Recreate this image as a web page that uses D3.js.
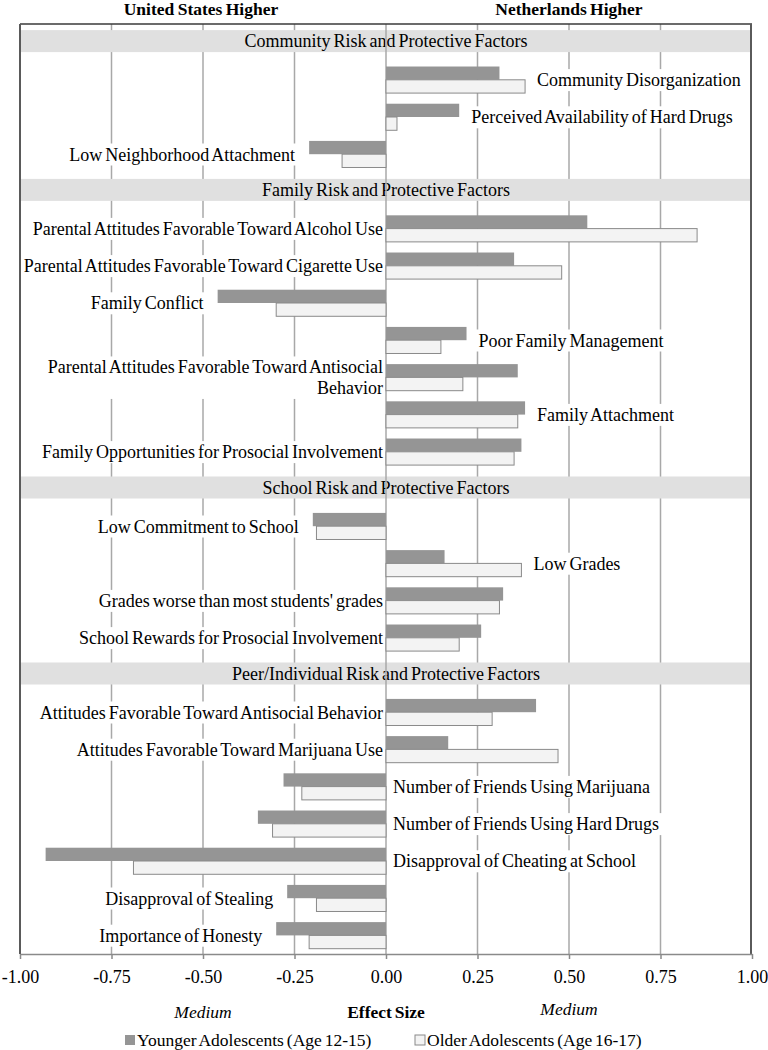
<!DOCTYPE html>
<html>
<head>
<meta charset="utf-8">
<script src="https://cdn.jsdelivr.net/npm/d3@7"></script>
<style>
  html, body { margin: 0; padding: 0; background: #fff; }
  svg { display: block; }
  text { font-family: "Liberation Serif", "Times New Roman", serif; fill: #000; }
</style>
</head>
<body>
<svg id="chart" width="768" height="1050"></svg>
<script>
// ---------------- DATA ----------------
const sections = [
  "Community Risk and Protective Factors",
  "Family Risk and Protective Factors",
  "School Risk and Protective Factors",
  "Peer/Individual Risk and Protective Factors"
];

const communityFactors = [
  "Community Disorganization",
  "Perceived Availability of Hard Drugs",
  "Low Neighborhood Attachment"
];
const communityYounger = [0.31, 0.20, -0.21];
const communityOlder   = [0.38, 0.03, -0.12];

const familyFactors = [
  "Parental Attitudes Favorable Toward Alcohol Use",
  "Parental Attitudes Favorable Toward Cigarette Use",
  "Family Conflict",
  "Poor Family Management",
  "Parental Attitudes Favorable Toward Antisocial\nBehavior",
  "Family Attachment",
  "Family Opportunities for Prosocial Involvement"
];
const familyYounger = [0.55, 0.35, -0.46, 0.22, 0.36, 0.38, 0.37];
const familyOlder   = [0.85, 0.48, -0.30, 0.15, 0.21, 0.36, 0.35];

const schoolFactors = [
  "Low Commitment to School",
  "Low Grades",
  "Grades worse than most students' grades",
  "School Rewards for Prosocial Involvement"
];
const schoolYounger = [-0.20, 0.16, 0.32, 0.26];
const schoolOlder   = [-0.19, 0.37, 0.31, 0.20];

const peerFactors = [
  "Attitudes Favorable Toward Antisocial Behavior",
  "Attitudes Favorable Toward Marijuana Use",
  "Number of Friends Using Marijuana",
  "Number of Friends Using Hard Drugs",
  "Disapproval of Cheating at School",
  "Disapproval of Stealing",
  "Importance of Honesty"
];
const peerYounger = [0.41, 0.17, -0.28, -0.35, -0.93, -0.27, -0.30];
const peerOlder   = [0.29, 0.47, -0.23, -0.31, -0.69, -0.19, -0.21];

const seriesNames = ["Younger Adolescents (Age 12-15)", "Older Adolescents (Age 16-17)"];
const tickValues = [-1, -0.75, -0.5, -0.25, 0, 0.25, 0.5, 0.75, 1];
const tickLabels = ["-1.00", "-0.75", "-0.50", "-0.25", "0.00", "0.25", "0.50", "0.75", "1.00"];
const sideTitles = ["United States Higher", "Netherlands Higher"];
const axisTitle = "Effect Size";
const mediumLabel = "Medium";
const mediumValues = [-0.5, 0.5];

// label placement (layout only): where each factor label sits relative to its bars
const labelSide = [
  "barRight", "barRight", "barLeft",
  "zeroLeft", "zeroLeft", "barLeft", "barRight", "zeroLeft", "barRight", "zeroLeft",
  "barLeft", "barRight", "zeroLeft", "zeroLeft",
  "zeroLeft", "zeroLeft", "zeroRight", "zeroRight", "zeroRight", "barLeft", "barLeft"
];

// ---------------- BUILD ROWS ----------------
const groups = [
  [communityFactors, communityYounger, communityOlder],
  [familyFactors, familyYounger, familyOlder],
  [schoolFactors, schoolYounger, schoolOlder],
  [peerFactors, peerYounger, peerOlder]
];
const rows = [];
let li = 0;
groups.forEach((g, gi) => {
  rows.push({ key: "h" + gi, header: true, label: sections[gi] });
  g[0].forEach((name, i) => {
    rows.push({ key: "f" + li, header: false, label: name, values: [g[1][i], g[2][i]], side: labelSide[li] });
    li++;
  });
});

// ---------------- LAYOUT ----------------
const svg = d3.select("#chart");
const pL = 20, pR = 752, pT = 24, pB = 954;
const FS = 18;
const WS = -1.5;
const FONT = "'Liberation Serif', 'Times New Roman', serif";

const x = d3.scaleLinear().domain([-1, 1]).range([pL, pR]);
const y = d3.scaleBand().domain(rows.map(r => r.key)).range([pT, pB]).paddingInner(0).paddingOuter(0);
const sub = d3.scaleBand().domain([0, 1]).range([0, y.bandwidth()]).paddingInner(0).paddingOuter(0.4);

const colors = { dark: "#959595", light: "#f3f3f3", lightStroke: "#8a8a8a", grid: "#a8a8a8", band: "#e0e0e0" };

svg.append("rect").attr("width", 768).attr("height", 1050).attr("fill", "#fff");

// gridlines (non-zero)
svg.append("g").selectAll("line")
  .data(tickValues.filter(v => v !== 0 && Math.abs(v) !== 1))
  .join("line")
  .attr("x1", d => x(d)).attr("x2", d => x(d))
  .attr("y1", pT).attr("y2", pB)
  .attr("stroke", colors.grid).attr("stroke-width", 1.5);

// header bands
const headers = rows.filter(r => r.header);
const bandH = 22;
const hg = svg.append("g");
hg.selectAll("rect").data(headers).join("rect")
  .attr("x", pL + 1).attr("width", pR - pL - 2)
  .attr("y", d => y(d.key) + y.bandwidth() / 2 - bandH / 2 - 1.5)
  .attr("height", bandH)
  .attr("fill", colors.band);
hg.selectAll("text").data(headers).join("text")
  .attr("x", x(0)).attr("y", d => y(d.key) + y.bandwidth() / 2 - 1.5)
  .attr("dy", "0.35em")
  .attr("text-anchor", "middle")
  .attr("font-size", FS).attr("word-spacing", WS)
  .text(d => d.label);

// factor labels with white backing
const factors = rows.filter(r => !r.header);
const lg = svg.append("g");
factors.forEach(r => {
  const lo = Math.min(0, ...r.values), hi = Math.max(0, ...r.values);
  let tx, anchor;
  if (r.side === "zeroLeft") { tx = x(0) - 3; anchor = "end"; }
  else if (r.side === "zeroRight") { tx = x(0) + 7; anchor = "start"; }
  else if (r.side === "barLeft") { tx = x(lo) - 14; anchor = "end"; }
  else { tx = x(hi) + 12; anchor = "start"; }
  const cy = y(r.key) + y.bandwidth() / 2;
  const lines = r.label.split("\n");
  const g = lg.append("g");
  const bgr = g.append("rect").attr("fill", "#fff");
  const t = g.append("text")
    .attr("text-anchor", anchor)
    .attr("font-size", FS).attr("word-spacing", WS);
  const lh = 20.5;
  lines.forEach((ln, i) => {
    t.append("tspan").attr("x", tx)
      .attr("y", cy + (i - (lines.length - 1) / 2) * lh)
      .attr("dy", "0.35em")
      .text(ln);
  });
  const bb = t.node().getBBox();
  bgr.attr("x", bb.x - 7).attr("y", bb.y - 1).attr("width", bb.width + 14).attr("height", bb.height + 2);
});

// zero line
svg.append("line")
  .attr("x1", x(0)).attr("x2", x(0)).attr("y1", pT).attr("y2", pB)
  .attr("stroke", colors.grid).attr("stroke-width", 1.5);

// bars
const barG = svg.append("g");
factors.forEach(r => {
  r.values.forEach((v, si) => {
    barG.append("rect")
      .attr("x", x(Math.min(0, v)))
      .attr("width", Math.abs(x(v) - x(0)))
      .attr("y", y(r.key) + sub(si))
      .attr("height", sub.bandwidth())
      .attr("fill", si === 0 ? colors.dark : colors.light)
      .attr("stroke", si === 0 ? "none" : colors.lightStroke)
      .attr("stroke-width", si === 0 ? 0 : 1);
  });
});

// borders
svg.append("line").attr("x1", pL).attr("x2", pR).attr("y1", pT).attr("y2", pT)
  .attr("stroke", "#3a3a3a").attr("stroke-width", 1.5);
svg.append("line").attr("x1", pL).attr("x2", pL).attr("y1", pT).attr("y2", pB)
  .attr("stroke", "#5a5a5a").attr("stroke-width", 2);
svg.append("line").attr("x1", pR - 1).attr("x2", pR - 1).attr("y1", pT).attr("y2", pB)
  .attr("stroke", "#5a5a5a").attr("stroke-width", 2);

// x axis
const ax = svg.append("g").attr("transform", `translate(0,${pB})`)
  .call(d3.axisBottom(x).tickValues(tickValues).tickFormat((d, i) => tickLabels[i]).tickSize(5).tickSizeOuter(0).tickPadding(11));
ax.attr("font-family", null).attr("font-size", null);
ax.select(".domain").attr("stroke", "#8a8a8a").attr("stroke-width", 1.5);
ax.selectAll(".tick line").attr("stroke", "#8a8a8a").attr("stroke-width", 1.5);
ax.selectAll(".tick text").style("font-family", FONT).style("font-size", "18px").attr("fill", "#000");

// side titles
svg.append("text").attr("x", 201).attr("y", 15).attr("text-anchor", "middle")
  .attr("font-size", 17.5).attr("font-weight", "bold").attr("word-spacing", -1).text(sideTitles[0]);
svg.append("text").attr("x", 569).attr("y", 15).attr("text-anchor", "middle")
  .attr("font-size", 17.5).attr("font-weight", "bold").attr("word-spacing", -1).text(sideTitles[1]);

// axis title & Medium markers
svg.append("text").attr("x", x(0)).attr("y", 1012).attr("dy", "0.35em").attr("text-anchor", "middle")
  .attr("font-size", 17.5).attr("font-weight", "bold").attr("word-spacing", -1.5).text(axisTitle);
svg.selectAll(".med").data(mediumValues).join("text").attr("class", "med")
  .attr("x", d => x(d)).attr("y", (d, i) => i === 0 ? 1012 : 1009).attr("dy", "0.35em")
  .attr("text-anchor", "middle").attr("font-size", 17.5).attr("font-style", "italic")
  .text(mediumLabel);

// legend
const legX = [125, 415];
const leg = svg.append("g");
seriesNames.forEach((s, i) => {
  leg.append("rect").attr("x", legX[i]).attr("y", 1035).attr("width", 10).attr("height", 10)
    .attr("fill", i === 0 ? colors.dark : colors.light)
    .attr("stroke", i === 0 ? "none" : colors.lightStroke).attr("stroke-width", 1);
  leg.append("text").attr("x", legX[i] + 12).attr("y", 1040).attr("dy", "0.35em")
    .attr("font-size", 17.5).attr("word-spacing", -1.5).text(s);
});
</script>
</body>
</html>
